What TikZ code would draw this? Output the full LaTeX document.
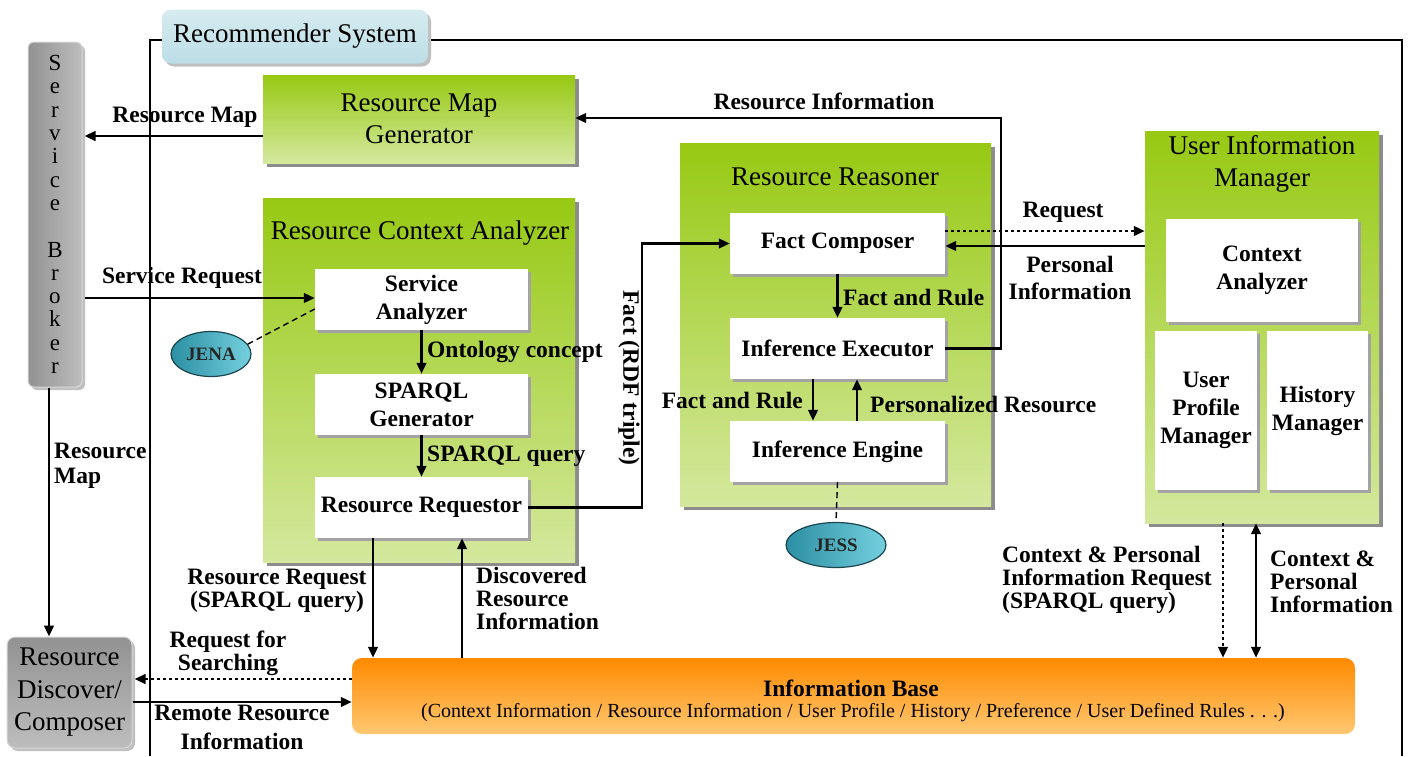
\documentclass[tikz,border=0pt]{standalone}
\usepackage{fontspec}
\setmainfont{Liberation Serif}
\usetikzlibrary{arrows.meta,shapes.geometric,shadows}

\definecolor{greenTop}{HTML}{97C913}
\definecolor{greenBot}{HTML}{D4E89E}
\definecolor{orangeTop}{HTML}{FF8A00}
\definecolor{orangeBot}{HTML}{FFC872}
\definecolor{tealDark}{HTML}{2C8FA3}
\definecolor{tealLight}{HTML}{74D0DE}
\definecolor{tealLine}{HTML}{1B4550}
\definecolor{tagTop}{HTML}{D6ECF0}
\definecolor{tagBot}{HTML}{BCDDE6}
\definecolor{shadeGray}{HTML}{8C8C8C}
\definecolor{brokerDark}{HTML}{929292}
\definecolor{brokerLight}{HTML}{BDBDBD}

\newcommand\titlefont{\fontsize{27}{32.5}\selectfont}
\newcommand\boxfont{\fontsize{23.5}{28}\selectfont\bfseries}
\newcommand\labelfont{\fontsize{23.5}{23}\selectfont\bfseries}

\tikzset{
  >={Triangle[length=11pt,width=9.5pt]},
  boxshadow/.style={drop shadow={shadow xshift=4pt,shadow yshift=-4pt,fill=shadeGray,opacity=1}},
  smallshadow/.style={drop shadow={shadow xshift=3pt,shadow yshift=-3pt,fill=shadeGray!80,opacity=1}},
  greenbox/.style={rectangle,inner sep=0pt,top color=greenTop,bottom color=greenBot,boxshadow,align=center,font=\titlefont},
  whitebox/.style={rectangle,inner sep=0pt,fill=white,smallshadow,align=center,font=\boxfont},
  graybox/.style={rectangle,rounded corners=8pt,inner sep=0pt,align=center,font=\titlefont,
    draw=white!85!black,line width=1pt,drop shadow={shadow xshift=3pt,shadow yshift=-3pt,fill=black!25,opacity=1}},
  titletext/.style={inner sep=0pt,align=center,font=\titlefont},
  lbl/.style={inner sep=0pt,align=center,font=\labelfont},
  lblleft/.style={inner sep=0pt,align=left,font=\labelfont},
  tool/.style={ellipse,draw=tealLine,line width=1.2pt,left color=tealDark,right color=tealLight,
    inner sep=0pt,font=\fontsize{19}{19}\selectfont\bfseries,text=black!85},
  arr/.style={line width=2.6pt,->},
  dotarr/.style={line width=2.6pt,->,dash pattern=on 2.6pt off 3.4pt},
  dashlink/.style={line width=1.4pt,dash pattern=on 6pt off 4pt},
}

\begin{document}
\begin{tikzpicture}[x=1pt,y=-1pt]
\useasboundingbox (0,0) rectangle (1411,756);

% system boundary
\draw[line width=1.8pt] (150,756) -- (150,40) -- (1402,40) -- (1402,756);
\node[rectangle,rounded corners=9pt,top color=tagTop,bottom color=tagBot,inner sep=0pt,
  minimum width=266pt,minimum height=54pt,font=\titlefont,
  drop shadow={shadow xshift=3pt,shadow yshift=-3pt,fill=black!25,opacity=1}]
  (systag) at (295,36.5) {Recommender System};

% external parts
\node[graybox,rounded corners=6pt,left color=brokerDark,right color=brokerLight,
  minimum width=54pt,minimum height=345pt,font=\fontsize{23}{23.3}\selectfont]
  (broker) at (55,214.5) {S\\e\\r\\v\\i\\c\\e\\~\\B\\r\\o\\k\\e\\r};
\node[graybox,top color=brokerDark,bottom color=brokerLight,
  minimum width=125pt,minimum height=111pt]
  (rdc) at (69.5,692.5) {Resource\\Discover/\\Composer};

% resource map generator
\node[greenbox,minimum width=312pt,minimum height=88pt] (rmg) at (419,119) {Resource Map\\Generator};

% resource context analyzer
\node[greenbox,minimum width=312pt,minimum height=364pt] (rca) at (419,380) {};
\node[titletext] (rcaT) at (420,233) {Resource Context Analyzer};
\node[whitebox,minimum width=213pt,minimum height=61pt] (sa) at (421.5,299.5) {Service\\Analyzer};
\node[whitebox,minimum width=213pt,minimum height=61pt] (sg) at (421.5,404.5) {SPARQL\\Generator};
\node[whitebox,minimum width=213pt,minimum height=61pt] (rreq) at (421.5,507.5) {Resource Requestor};

% resource reasoner
\node[greenbox,minimum width=311pt,minimum height=363pt] (rre) at (835.5,324.5) {};
\node[titletext] (rreT) at (835,177) {Resource Reasoner};
\node[whitebox,minimum width=215pt,minimum height=61pt] (fc) at (837.5,243.5) {Fact Composer};
\node[whitebox,minimum width=215pt,minimum height=61pt] (ie) at (837.5,348.5) {Inference Executor};
\node[whitebox,minimum width=215pt,minimum height=61pt] (eng) at (837.5,451.5) {Inference Engine};

% user information manager
\node[greenbox,minimum width=234pt,minimum height=392pt] (uim) at (1262,327) {};
\node[titletext] (uimT) at (1262,164) {User Information\\Manager};
\node[whitebox,minimum width=192pt,minimum height=103pt] (ca) at (1262,270.5) {Context\\Analyzer};
\node[whitebox,minimum width=102pt,minimum height=159pt] (upm) at (1206,410.5) {User\\Profile\\Manager};
\node[whitebox,minimum width=101pt,minimum height=159pt] (hm) at (1317.5,410.5) {History\\Manager};

% information base
\node[rectangle,rounded corners=10pt,top color=orangeTop,bottom color=orangeBot,inner sep=0pt,
  minimum width=1003pt,minimum height=76pt] (ib) at (853.5,696) {};
\node[lbl] (ibT) at (851,688) {Information Base};
\node[inner sep=0pt,font=\fontsize{20}{20}\selectfont] (ibS) at (853,713)
  {(Context Information / Resource Information / User Profile / History / Preference / User Defined Rules . . .)};

% external tools
\node[tool,minimum width=80pt,minimum height=45pt] (jena) at (211,354) {JENA};
\node[tool,minimum width=100pt,minimum height=45pt] (jess) at (836,545) {JESS};

% helper levels for connectors
\coordinate (hRM) at (0,136);
\coordinate (hRI) at (0,118);
\coordinate (hSR) at (0,298);
\coordinate (hJ)  at (0,309);
\coordinate (hRS) at (0,679);
\coordinate (hRR) at (0,702);
\coordinate (hRq) at (0,231);
\coordinate (hPI) at (0,246);
\coordinate (vF)  at (642,0);
\coordinate (vRR) at (373,0);
\coordinate (vDR) at (462,0);
\coordinate (vFR) at (813,0);
\coordinate (vPR) at (857,0);
\coordinate (vCR) at (1223,0);
\coordinate (vCP) at (1256,0);
\coordinate (vBM) at (49,0);
\coordinate (vRI) at (1001,0);

% connectors
\draw[arr] (rmg.west |- hRM) -- ([xshift=2pt]broker.east |- hRM);
\draw[arr] ([xshift=2pt]broker.east |- hSR) -- (sa.west |- hSR);
\draw[arr] (ie.east) -- (ie.east -| vRI) |- (rmg.east |- hRI);
\draw[arr] (sa.south) -- (sg.north);
\draw[arr] (sg.south) -- (rreq.north);
\draw[arr] (rreq.east) -- (rreq.east -| vF) |- (fc.west);
\draw[arr] (rreq.south -| vRR) -- (ib.north -| vRR);
\draw[arr] (ib.north -| vDR) -- (rreq.south -| vDR);
\draw[dotarr] (ib.west |- hRS) -- ([xshift=2pt]rdc.east |- hRS);
\draw[arr] (rdc.east |- hRR) -- (ib.west |- hRR);
\draw[arr] (broker.south -| vBM) -- (rdc.north -| vBM);
\draw[arr] (fc.south) -- (ie.north);
\draw[arr] (ie.south -| vFR) -- (eng.north -| vFR);
\draw[arr] (eng.north -| vPR) -- (ie.south -| vPR);
\draw[dotarr] (fc.east |- hRq) -- (uim.west |- hRq);
\draw[arr] (uim.west |- hPI) -- (fc.east |- hPI);
\draw[dotarr] (uim.south -| vCR) -- (ib.north -| vCR);
\draw[arr,<->] (uim.south -| vCP) -- (ib.north -| vCP);
\draw[dashlink] (jena.15) -- (sa.west |- hJ);
\draw[dashlink] (eng.south) -- (jess.north);

% connector labels
\node[lbl] (lRM) at (185,117) {Resource Map};
\node[lbl] (lRI) at (824,101) {Resource Information};
\node[lbl] (lSR) at (182,278) {Service Request};
\node[lbl,anchor=west] (lOC) at (427,352) {Ontology concept};
\node[lbl,anchor=west] (lSQ) at (427,456) {SPARQL query};
\node[lbl,rotate=-90] (lFT) at (629,378) {Fact (RDF triple)};
\node[lbl,anchor=west] (lFR1) at (843,297) {Fact and Rule};
\node[lbl,anchor=east] (lFR2) at (803,400) {Fact and Rule};
\node[lbl,anchor=west] (lPR) at (870,404) {Personalized Resource};
\node[lbl] (lRq) at (1063,212) {Request};
\node[lbl,font=\fontsize{23.5}{27}\selectfont\bfseries] (lPI) at (1070,278) {Personal\\Information};
\node[lblleft,anchor=west,font=\fontsize{23.5}{25}\selectfont\bfseries] (lBM) at (54,466) {Resource\\Map};
\node[lbl] (lRRq) at (277,591) {Resource Request\\(SPARQL query)};
\node[lblleft,anchor=west] (lDR) at (476,598) {Discovered\\Resource\\Information};
\node[lbl] (lRS) at (228,653) {Request for\\Searching};
\node[lbl,font=\fontsize{23.5}{29}\selectfont\bfseries] (lRRI) at (242,727) {Remote Resource\\Information};
\node[lblleft,anchor=west] (lCPR) at (1002,580) {Context \& Personal\\Information Request\\(SPARQL query)};
\node[lblleft,anchor=west] (lCPI) at (1270,582) {Context \&\\Personal\\Information};

\end{tikzpicture}
\end{document}
